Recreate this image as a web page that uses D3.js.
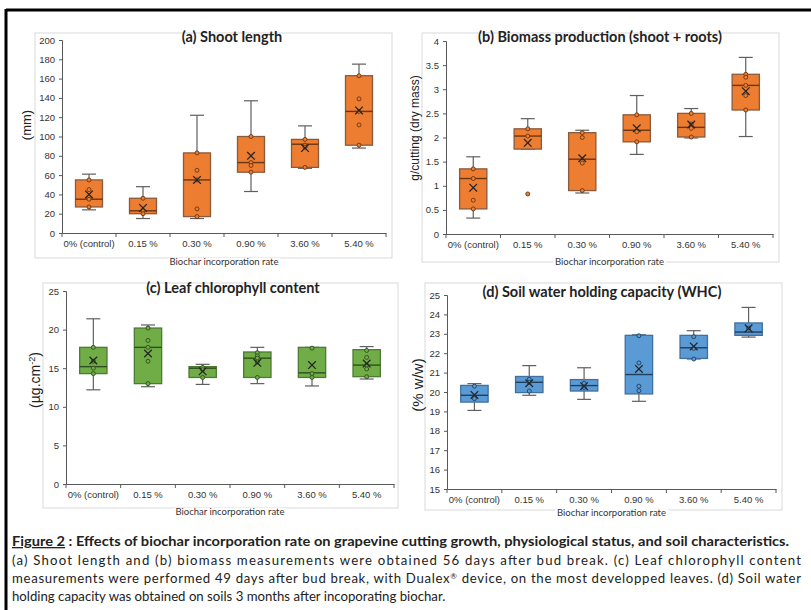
<!DOCTYPE html>
<html lang="en">
<head>
<meta charset="utf-8">
<script src="https://d3js.org/d3.v7.min.js"></script>
<style>
    body { margin: 0; background: #fff; }
    svg text { fill: #222; }
    .tick text { font-family: "Liberation Sans", Arial, sans-serif; font-size: 9.5px; fill: #333; }
    .title { font-family: Lato, sans-serif; font-weight: bold; font-size: 14.5px; }
    .xtitle { font-family: Lato, sans-serif; font-size: 9.5px; fill: #333; }
    .ylab { font-family: "Liberation Sans", Arial, sans-serif; }
    .caption { font-family: Lato, sans-serif; font-size: 13.2px; }
</style>
</head>
<body>
<svg id="fig" width="811" height="610"></svg>
<script>
const categories = ["0% (control)", "0.15 %", "0.30 %", "0.90 %", "3.60 %", "5.40 %"];

// (a) shoot length, mm
const shootMin = [24, 15, 15, 43, 67, 88];
const shootQ1 = [27, 20, 17, 63, 68, 91];
const shootMed = [35, 23, 55, 73, 92, 126];
const shootQ3 = [55, 36, 83, 100, 97, 163];
const shootMax = [61, 48, 122, 137, 111, 175];
const shootMean = [40, 26, 55, 80, 88, 127];
const shootPts = [[55, 45, 35, 27], [36, 23, 20], [83, 65, 55, 25, 17], [100, 73, 70, 63], [97, 91, 89, 68], [163, 139, 126, 112, 91]];
const shootTicks = [0, 20, 40, 60, 80, 100, 120, 140, 160, 180, 200];

// (b) biomass, g/cutting
const bioMin = [0.33, 1.76, 0.85, 1.65, 1.99, 2.02];
const bioQ1 = [0.52, 1.76, 0.90, 1.91, 2.01, 2.57];
const bioMed = [1.15, 2.03, 1.55, 2.15, 2.21, 3.08];
const bioQ3 = [1.35, 2.18, 2.10, 2.47, 2.50, 3.31];
const bioMax = [1.60, 2.39, 2.15, 2.87, 2.60, 3.66];
const bioMean = [0.96, 1.89, 1.57, 2.19, 2.27, 2.96];
const bioPts = [[1.35, 1.15, 0.70, 0.52], [2.18, 2.03, 0.83], [2.10, 2.00, 1.47, 0.90], [2.47, 2.12, 1.91], [2.50, 2.28, 2.19, 2.01], [3.31, 3.25, 3.08, 2.87, 2.57]];
const bioTicks = [0, 0.5, 1, 1.5, 2, 2.5, 3, 3.5, 4];

// (c) leaf chlorophyll, µg/cm2
const chlMin = [12.2, 12.6, 12.9, 13.0, 12.7, 13.6];
const chlQ1 = [14.3, 13.0, 13.8, 13.8, 13.8, 13.9];
const chlMed = [15.2, 17.7, 15.0, 16.3, 14.4, 15.4];
const chlQ3 = [17.7, 20.2, 15.2, 17.1, 17.7, 17.4];
const chlMax = [21.4, 20.6, 15.5, 17.7, 17.7, 17.8];
const chlMean = [16.0, 16.9, 14.6, 15.7, 15.4, 15.6];
const chlPts = [[17.7, 15.9, 15.0, 14.3], [20.2, 18.6, 17.7, 15.9, 13.0], [15.1, 14.8, 13.8], [17.0, 16.6, 16.3, 15.8, 13.8], [17.6, 14.3, 13.8], [17.3, 16.4, 15.4, 14.9, 13.9]];
const chlTicks = [0, 5, 10, 15, 20, 25];

// (d) soil WHC, % w/w
const whcMin = [19.05, 19.83, 19.62, 19.52, 21.70, 22.83];
const whcQ1 = [19.48, 19.97, 20.05, 19.90, 21.73, 22.92];
const whcMed = [19.83, 20.50, 20.33, 20.90, 22.28, 23.09];
const whcQ3 = [20.34, 20.80, 20.64, 22.92, 22.92, 23.56];
const whcMax = [20.43, 21.36, 21.25, 22.95, 23.16, 24.36];
const whcMean = [19.85, 20.45, 20.30, 21.19, 22.35, 23.28];
const whcPts = [[20.3, 19.66], [20.65, 20.5, 20.05], [20.45, 20.24], [22.9, 21.5, 20.3, 20.07], [22.85, 22.25, 21.7], [23.3]];
const whcTicks = [15, 16, 17, 18, 19, 20, 21, 22, 23, 24, 25];

const svg = d3.select("#fig");

// outer figure border (left + top)
svg.append("line").attr("x1", 6).attr("y1", 10).attr("x2", 811).attr("y2", 10)
    .attr("stroke", "#000").attr("stroke-width", 3);
svg.append("line").attr("x1", 6).attr("y1", 9).attr("x2", 6).attr("y2", 610)
    .attr("stroke", "#000").attr("stroke-width", 3);

function panel(p) {
    const g = svg.append("g");
    // chart area frame
    g.append("rect").attr("x", p.frame[0]).attr("y", p.frame[1])
        .attr("width", p.frame[2] - p.frame[0]).attr("height", p.frame[3] - p.frame[1])
        .attr("fill", "none").attr("stroke", "#d9d9d9").attr("stroke-width", 1);

    const x = d3.scaleBand().domain(categories).range([p.x0, p.x1]);
    const y = d3.scaleLinear().domain(p.domain).range([p.y0, p.y1]);

    // y axis
    const ya = g.append("g").attr("transform", `translate(${p.x0},0)`)
        .call(d3.axisLeft(y).tickValues(p.ticks).tickFormat(d => String(d)).tickSize(3).tickPadding(4));
    ya.select(".domain").attr("stroke", "#595959");
    ya.selectAll(".tick line").attr("stroke", "#595959");

    // x axis
    const xa = g.append("g").attr("transform", `translate(0,${p.y0})`)
        .call(d3.axisBottom(x).tickSize(0).tickPadding(7));
    xa.select(".domain").attr("stroke", "#595959");
    g.selectAll(null).data(d3.range(categories.length + 1)).enter().append("line")
        .attr("x1", i => p.x0 + i * x.step()).attr("x2", i => p.x0 + i * x.step())
        .attr("y1", p.y0).attr("y2", p.y0 + 4)
        .attr("stroke", "#595959");

    const bw = x.bandwidth() / 2;
    const cx = i => x(categories[i]) + x.bandwidth() / 2;
    const idx = d3.range(categories.length);

    // whiskers
    const wg = g.append("g").attr("stroke", "#5f5f5f").attr("stroke-width", 1.2);
    idx.forEach(i => {
        wg.append("line").attr("x1", cx(i)).attr("x2", cx(i)).attr("y1", y(p.max[i])).attr("y2", y(p.q3[i]));
        wg.append("line").attr("x1", cx(i)).attr("x2", cx(i)).attr("y1", y(p.min[i])).attr("y2", y(p.q1[i]));
        wg.append("line").attr("x1", cx(i) - 7).attr("x2", cx(i) + 7).attr("y1", y(p.max[i])).attr("y2", y(p.max[i]));
        wg.append("line").attr("x1", cx(i) - 7).attr("x2", cx(i) + 7).attr("y1", y(p.min[i])).attr("y2", y(p.min[i]));
    });

    // boxes
    g.selectAll(null).data(idx).enter().append("rect")
        .attr("x", i => cx(i) - bw / 2).attr("width", bw)
        .attr("y", i => y(p.q3[i])).attr("height", i => y(p.q1[i]) - y(p.q3[i]))
        .attr("fill", p.fill).attr("stroke", p.edge).attr("stroke-width", 1.3);
    g.selectAll(null).data(idx).enter().append("line")
        .attr("x1", i => cx(i) - bw / 2).attr("x2", i => cx(i) + bw / 2)
        .attr("y1", i => y(p.med[i])).attr("y2", i => y(p.med[i]))
        .attr("stroke", p.dark).attr("stroke-width", 1.4);

    // points
    idx.forEach(i => {
        g.selectAll(null).data(p.pts[i]).enter().append("circle")
            .attr("cx", cx(i)).attr("cy", d => y(d)).attr("r", 2)
            .attr("fill", p.fill).attr("stroke", p.dark).attr("stroke-width", 0.9);
    });

    // mean markers
    idx.forEach(i => {
        const mx = cx(i), my = y(p.mean[i]), s = 3.8;
        g.append("path").attr("d", `M${mx - s},${my - s}L${mx + s},${my + s}M${mx - s},${my + s}L${mx + s},${my - s}`)
            .attr("stroke", "#262626").attr("stroke-width", 1.3).attr("fill", "none");
    });

    // titles
    g.append("text").attr("class", "title").attr("x", p.titleX).attr("y", p.titleY)
        .attr("text-anchor", "middle").text(p.title);
    const xt = g.append("text").attr("class", "xtitle").attr("x", (p.x0 + p.x1) / 2).attr("y", p.xtY)
        .attr("text-anchor", "middle").text("Biochar incorporation rate");
    const bb = xt.node().getBBox();
    g.insert("rect", "text.xtitle").attr("x", bb.x - 2).attr("y", bb.y + 2).attr("width", bb.width + 4)
        .attr("height", bb.height - 2).attr("fill", "#fff");

    const yl = g.append("text").attr("class", "ylab")
        .attr("transform", `translate(${p.ylX},${p.ylY}) rotate(-90)`)
        .attr("text-anchor", "middle").style("font-size", p.ylSize + "px");
    p.ylab(yl);
}

panel({
    frame: [35, 33, 392, 258], x0: 62, x1: 386, y0: 233, y1: 40, domain: [0, 200], ticks: shootTicks,
    min: shootMin, q1: shootQ1, med: shootMed, q3: shootQ3, max: shootMax, mean: shootMean, pts: shootPts,
    fill: "#ed7d31", edge: "#8b5a3c", dark: "#6b3612",
    title: "(a) Shoot length", titleX: 232, titleY: 42, xtY: 265,
    ylX: 31, ylY: 125, ylSize: 13, ylab: t => t.text("(mm)")
});
panel({
    frame: [422, 33, 779, 262], x0: 446, x1: 773, y0: 234, y1: 41, domain: [0, 4], ticks: bioTicks,
    min: bioMin, q1: bioQ1, med: bioMed, q3: bioQ3, max: bioMax, mean: bioMean, pts: bioPts,
    fill: "#ed7d31", edge: "#8b5a3c", dark: "#6b3612",
    title: "(b) Biomass production (shoot + roots)", titleX: 600, titleY: 42, xtY: 265,
    ylX: 419, ylY: 128, ylSize: 12, ylab: t => t.text("g/cutting (dry mass)")
});
panel({
    frame: [43, 283, 398, 508], x0: 66, x1: 394, y0: 484, y1: 291, domain: [0, 25], ticks: chlTicks,
    min: chlMin, q1: chlQ1, med: chlMed, q3: chlQ3, max: chlMax, mean: chlMean, pts: chlPts,
    fill: "#70ad47", edge: "#4e7a35", dark: "#2f4f1d",
    title: "(c) Leaf chlorophyll content", titleX: 233, titleY: 293, xtY: 515,
    ylX: 40, ylY: 380, ylSize: 14,
    ylab: t => { t.append("tspan").text("(µg.cm"); t.append("tspan").attr("dy", -5).style("font-size", "9px").text("-2"); t.append("tspan").attr("dy", 5).text(")"); }
});
panel({
    frame: [425, 283, 782, 510], x0: 447, x1: 776, y0: 489, y1: 295, domain: [15, 25], ticks: whcTicks,
    min: whcMin, q1: whcQ1, med: whcMed, q3: whcQ3, max: whcMax, mean: whcMean, pts: whcPts,
    fill: "#5b9bd5", edge: "#41709c", dark: "#1f3f60",
    title: "(d) Soil water holding capacity (WHC)", titleX: 602, titleY: 297, xtY: 516,
    ylX: 423, ylY: 385, ylSize: 15, ylab: t => t.text("(% w/w)")
});

// caption
const cap = svg.append("g").attr("class", "caption");
const l1 = cap.append("text").attr("x", 12).attr("y", 546).style("font-weight", "bold")
    .attr("textLength", 777).attr("lengthAdjust", "spacingAndGlyphs");
l1.append("tspan").style("text-decoration", "underline").text("Figure 2");
l1.append("tspan").text(" : Effects of biochar incorporation rate on grapevine cutting growth, physiological status, and soil characteristics.");
cap.append("text").attr("x", 12).attr("y", 565).attr("textLength", 789).attr("lengthAdjust", "spacing")
    .text("(a) Shoot length and (b) biomass measurements were obtained 56 days after bud break. (c) Leaf chlorophyll content");
const l3 = cap.append("text").attr("x", 12).attr("y", 583).attr("textLength", 789).attr("lengthAdjust", "spacing");
l3.append("tspan").text("measurements were performed 49 days after bud break, with Dualex");
l3.append("tspan").attr("dy", -4).style("font-size", "8px").text("®");
l3.append("tspan").attr("dy", 4).text(" device, on the most developped leaves. (d) Soil water");
cap.append("text").attr("x", 12).attr("y", 601)
    .text("holding capacity was obtained on soils 3 months after incoporating biochar.");
</script>
</body>
</html>
